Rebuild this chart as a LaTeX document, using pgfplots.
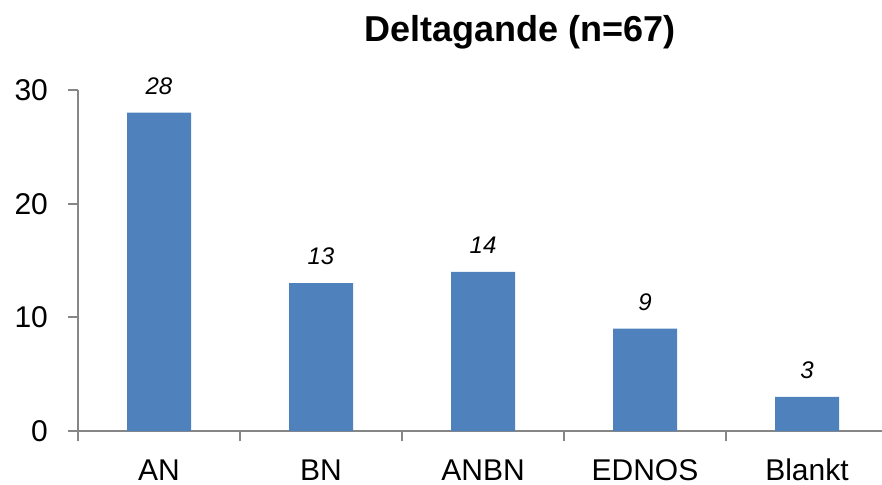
\documentclass[border=0pt]{standalone}
\usepackage{pgfplots}
\pgfplotsset{compat=1.18}
\usepackage{fontspec}
\setmainfont{Liberation Sans}
\definecolor{barblue}{HTML}{4F81BD}
\definecolor{axgray}{HTML}{868686}
\begin{document}
\begin{tikzpicture}
\begin{axis}[
  scale only axis, width=402pt, height=170.5pt,
  xmin=-0.5, xmax=4.463, ymin=0, ymax=30,
  axis x line=bottom, axis y line=left,
  axis line style={axgray, line width=1pt, -},
  xtick={0,1,2,3,4}, xticklabels={AN,BN,ANBN,EDNOS,Blankt},
  minor xtick={-0.5,0.5,1.5,2.5,3.5},
  tick style={axgray, line width=1pt},
  major x tick style={draw=none},
  minor tick length=5pt,
  major tick length=5pt,
  tick align=outside,
  ytick={0,10,20,30},
  tick label style={font=\fontsize{15}{17}\selectfont, text=black},
  xticklabel style={text height=11pt, text depth=0pt, yshift=-5pt},
  yticklabel style={xshift=-6.5pt},
  /pgf/number format/assume math mode=true,
  ybar, bar width=32pt,
  nodes near coords,
  nodes near coords style={font=\fontsize{12}{14}\selectfont\itshape, inner sep=0pt, yshift=9pt, text=black},
  clip=false,
]
\addplot[fill=barblue, draw=none] coordinates {(0,28) (1,13) (2,14) (3,9) (4,3)};
\coordinate (O) at (rel axis cs:0,0);
\end{axis}
\node[anchor=base, font=\fontsize{18}{21}\selectfont\bfseries] at ([shift={(221pt,195pt)}]O) {Deltagande (n=67)};
\pgfresetboundingbox
\path[use as bounding box] ([shift={(-39pt,-26.5pt)}]O) rectangle ++(441pt,242pt);
\end{tikzpicture}
\end{document}
